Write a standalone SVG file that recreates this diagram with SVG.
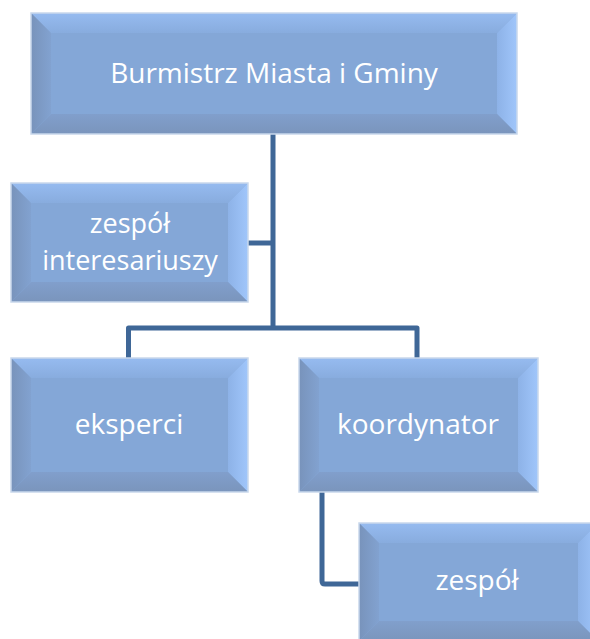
<svg xmlns="http://www.w3.org/2000/svg" width="590" height="639" viewBox="0 0 590 639">
<defs>
<linearGradient id="gT" x1="0" y1="0" x2="0" y2="1"><stop offset="0" stop-color="#96bbf0"/><stop offset="1" stop-color="#88acde"/></linearGradient>
<linearGradient id="gR" x1="1" y1="0" x2="0" y2="0"><stop offset="0" stop-color="#a0c6fb"/><stop offset="1" stop-color="#8db2e7"/></linearGradient>
<linearGradient id="gB" x1="0" y1="1" x2="0" y2="0"><stop offset="0" stop-color="#7a95bc"/><stop offset="1" stop-color="#819fcc"/></linearGradient>
<linearGradient id="gL" x1="0" y1="0" x2="1" y2="0"><stop offset="0" stop-color="#7893bb"/><stop offset="1" stop-color="#82a2d0"/></linearGradient>
</defs>
<style>
.face{fill:#84a7d7}
.t{fill:url(#gT)}
.r{fill:url(#gR)}
.b{fill:url(#gB)}
.l{fill:url(#gL)}
.edge{fill:none;stroke:#c9d8ec;stroke-width:1.5}
.lbl{font-family:"Open Sans","Noto Sans",sans-serif;font-size:28px;fill:#ffffff;text-anchor:middle}
.sm{font-size:27px}
.conn{fill:none;stroke:#3f6797;stroke-width:5;stroke-linejoin:round}
</style>
<g id="connectors">
<path class="conn" d="M273,134 V328"/>
<path class="conn" d="M248,243 H273"/>
<path class="conn" d="M128.5,358 V328 H417 V358"/>
<path class="conn" d="M322,492 V581 Q322,584 325,584 H359"/>
</g>
<g id="n-burmistrz">
<rect class="face" x="31" y="13" width="486" height="121"/>
<polygon class="t" points="31,13 517,13 497,33 51,33"/>
<polygon class="r" points="517,13 517,134 497,114 497,33"/>
<polygon class="b" points="31,134 517,134 497,114 51,114"/>
<polygon class="l" points="31,13 51,33 51,114 31,134"/>
<rect class="edge" x="31" y="13" width="486" height="121"/>
<text class="lbl" x="274" y="83">Burmistrz Miasta i Gminy</text>
</g>
<g id="n-interesariusze">
<rect class="face" x="11" y="183" width="237" height="119"/>
<polygon class="t" points="11,183 248,183 228,203 31,203"/>
<polygon class="r" points="248,183 248,302 228,282 228,203"/>
<polygon class="b" points="11,302 248,302 228,282 31,282"/>
<polygon class="l" points="11,183 31,203 31,282 11,302"/>
<rect class="edge" x="11" y="183" width="237" height="119"/>
<text class="lbl sm" x="130" y="233">zespół</text>
<text class="lbl sm" x="130" y="270">interesariuszy</text>
</g>
<g id="n-eksperci">
<rect class="face" x="11" y="358" width="237" height="134"/>
<polygon class="t" points="11,358 248,358 228,378 31,378"/>
<polygon class="r" points="248,358 248,492 228,472 228,378"/>
<polygon class="b" points="11,492 248,492 228,472 31,472"/>
<polygon class="l" points="11,358 31,378 31,472 11,492"/>
<rect class="edge" x="11" y="358" width="237" height="134"/>
<text class="lbl" x="129" y="434">eksperci</text>
</g>
<g id="n-koordynator">
<rect class="face" x="299" y="358" width="239" height="134"/>
<polygon class="t" points="299,358 538,358 518,378 319,378"/>
<polygon class="r" points="538,358 538,492 518,472 518,378"/>
<polygon class="b" points="299,492 538,492 518,472 319,472"/>
<polygon class="l" points="299,358 319,378 319,472 299,492"/>
<rect class="edge" x="299" y="358" width="239" height="134"/>
<text class="lbl" x="418" y="434">koordynator</text>
</g>
<g id="n-zespol">
<rect class="face" x="359" y="523" width="239" height="118"/>
<polygon class="t" points="359,523 598,523 578,543 379,543"/>
<polygon class="r" points="598,523 598,641 578,621 578,543"/>
<polygon class="b" points="359,641 598,641 578,621 379,621"/>
<polygon class="l" points="359,523 379,543 379,621 359,641"/>
<rect class="edge" x="359" y="523" width="239" height="118"/>
<text class="lbl" x="477" y="590">zespół</text>
</g>
</svg>
